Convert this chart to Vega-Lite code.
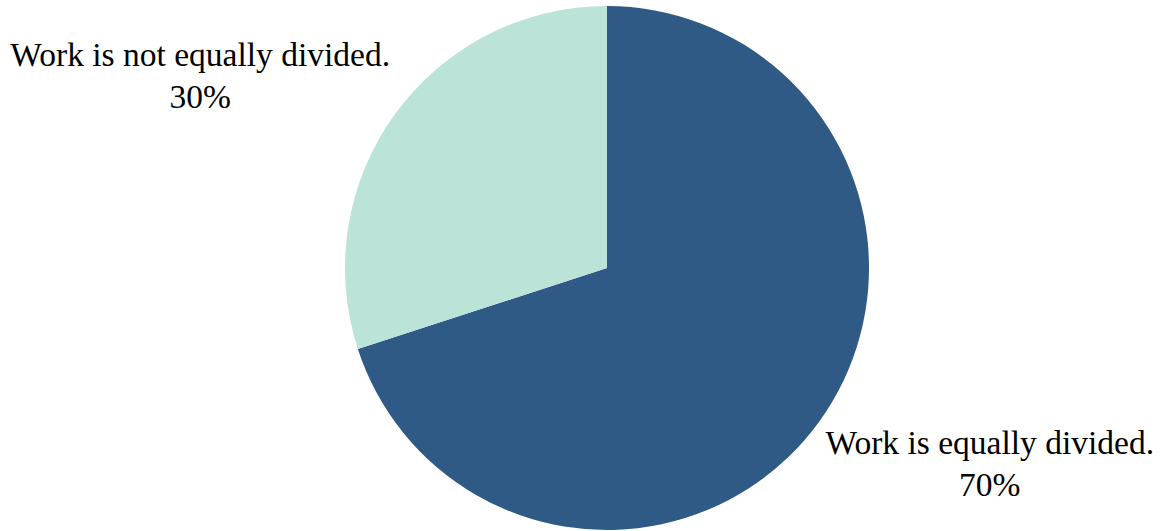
{
  "$schema": "https://vega.github.io/schema/vega-lite/v6.json",
  "width": 1108,
  "height": 526,
  "autosize": {"type": "none"},
  "padding": {"left": 53, "top": 5, "right": 0, "bottom": 0},
  "background": "white",
  "view": {"stroke": null},
  "data": {
    "values": [
      {"category": "Work is equally divided.", "value": 70, "label": "Work is equally divided.\n70%"},
      {"category": "Work is not equally divided.", "value": 30, "label": "Work is not equally divided.\n30%"}
    ]
  },
  "layer": [
    {
      "mark": {"type": "arc", "outerRadius": 262, "stroke": null},
      "encoding": {
        "theta": {"field": "value", "type": "quantitative", "stack": true},
        "color": {
          "field": "category",
          "type": "nominal",
          "scale": {"domain": ["Work is equally divided.", "Work is not equally divided."], "range": ["#2E5A85", "#BCE3D8"]},
          "legend": null
        }
      }
    },
    {
      "mark": {"type": "text", "radius": 440, "dx": -12, "dy": -18, "font": "Times New Roman, Liberation Serif, serif", "fontSize": 33.5, "lineHeight": 42, "lineBreak": "\n", "align": "center", "baseline": "middle", "color": "black"},
      "encoding": {
        "theta": {"field": "value", "type": "quantitative", "stack": true, "scale": {"range": [-0.171, 6.112]}},
        "detail": {"field": "category", "type": "nominal"},
        "text": {"field": "label", "type": "nominal"}
      }
    }
  ],
  "resolve": {"scale": {"theta": "independent"}}
}
